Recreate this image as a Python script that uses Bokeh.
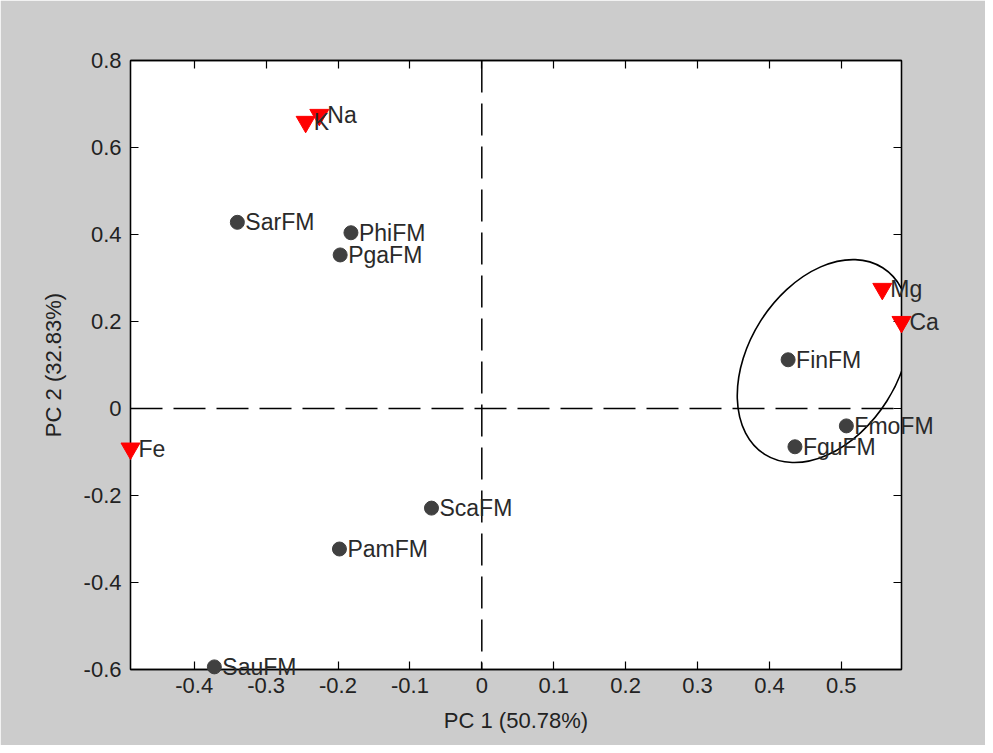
import math
from bokeh.plotting import figure
from bokeh.models import Range1d, LinearAxis, FixedTicker, Span, ColumnDataSource
from bokeh.core.properties import value
from bokeh.embed import file_html
from bokeh.resources import INLINE

# Samples (scores) - dark dots
sample_names = ["SarFM", "PhiFM", "PgaFM", "FinFM", "FmoFM", "FguFM", "ScaFM", "PamFM", "SauFM"]
sample_pc1 = [-0.340, -0.182, -0.197, 0.426, 0.507, 0.4355, -0.070, -0.198, -0.372]
sample_pc2 = [0.428, 0.404, 0.353, 0.112, -0.040, -0.088, -0.229, -0.323, -0.594]

# Elements (loadings) - red triangles
elem_names = ["K", "Na", "Mg", "Ca", "Fe"]
elem_pc1 = [-0.245, -0.226, 0.557, 0.5837, -0.4886]
elem_pc2 = [0.659, 0.675, 0.275, 0.199, -0.092]

# Group ellipse (center, width along x-scale, height along y-scale, angle in degrees)
ell_x = [0.4755]
ell_y = [0.109]
ell_w = [0.307]
ell_h = [0.344]
ell_angle_deg = [57.7]

x_ticks = [-0.4, -0.3, -0.2, -0.1, 0.0, 0.1, 0.2, 0.3, 0.4, 0.5]
x_tick_labels = ["-0.4", "-0.3", "-0.2", "-0.1", "0", "0.1", "0.2", "0.3", "0.4", "0.5"]
y_ticks = [-0.6, -0.4, -0.2, 0.0, 0.2, 0.4, 0.6, 0.8]
y_tick_labels = ["-0.6", "-0.4", "-0.2", "0", "0.2", "0.4", "0.6", "0.8"]

x_label = "PC 1 (50.78%)"
y_label = "PC 2 (32.83%)"

all_x = sample_pc1 + elem_pc1
x_min, x_max = min(all_x), max(all_x)
y_min, y_max = -0.6, 0.8

FONT = "Liberation Sans"
FS = "22px"
FS_LAB = "23px"

p = figure(
    frame_width=771, frame_height=609,
    min_border_left=130, min_border_right=84, min_border_top=60, min_border_bottom=76,
    x_range=Range1d(x_min, x_max), y_range=Range1d(y_min, y_max),
    output_backend="svg", toolbar_location=None,
    x_axis_location=None, y_axis_location=None,
)
p.border_fill_color = "#cccccc"
p.background_fill_color = "white"
p.outline_line_color = "black"
p.outline_line_width = 1.3
p.xgrid.visible = False
p.ygrid.visible = False

def make_axis(ticks, labels, show_labels, label_text=None):
    ax = LinearAxis(ticker=FixedTicker(ticks=ticks))
    if show_labels:
        ax.major_label_overrides = {t: l for t, l in zip(ticks, labels)}
    else:
        ax.major_label_overrides = {t: "" for t in ticks}
        ax.major_label_text_font_size = "0px"
    ax.major_tick_in = 8
    ax.major_tick_out = 0
    ax.minor_tick_line_color = None
    ax.axis_line_color = "black"
    ax.axis_line_width = 1.3
    ax.major_tick_line_color = "black"
    ax.major_tick_line_width = 1.2
    ax.major_label_text_font = FONT
    ax.major_label_text_color = "#222222"
    if show_labels:
        ax.major_label_text_font_size = FS
    if label_text:
        ax.axis_label = label_text
        ax.axis_label_text_font = FONT
        ax.axis_label_text_font_size = FS
        ax.axis_label_text_font_style = "normal"
        ax.axis_label_text_color = "#222222"
    return ax

bx = make_axis(x_ticks, x_tick_labels, True, x_label)
bx.major_label_standoff = 8
bx.axis_label_standoff = 12
p.add_layout(bx, "below")
ly = make_axis(y_ticks, y_tick_labels, True, y_label)
ly.major_label_standoff = 9
ly.axis_label_standoff = 15
p.add_layout(ly, "left")
p.add_layout(make_axis(x_ticks, x_tick_labels, False), "above")
p.add_layout(make_axis(y_ticks, y_tick_labels, False), "right")

# dashed zero lines
p.add_layout(Span(location=0, dimension="width", line_color="black", line_width=1.5, line_dash="32 11"))
p.add_layout(Span(location=0, dimension="height", line_color="black", line_width=1.5, line_dash="32 11"))

# ellipse
p.ellipse(x=ell_x, y=ell_y, width=ell_w, height=ell_h,
          angle=[math.radians(a) for a in ell_angle_deg],
          fill_color=None, line_color="black", line_width=1.6)

src_s = ColumnDataSource(dict(x=sample_pc1, y=sample_pc2, name=sample_names))
src_e = ColumnDataSource(dict(x=elem_pc1, y=elem_pc2, name=elem_names))

r1 = p.scatter("x", "y", source=src_s, marker="circle", size=14, fill_color="#404040", line_color="#404040")
r2 = p.text("x", "y", text="name", source=src_s, x_offset=8, text_baseline="middle",
            text_font=value(FONT), text_font_size=FS_LAB, text_color="#2a2a2a")
r3 = p.scatter("x", "y", source=src_e, marker="inverted_triangle", size=19, fill_color="#ff0000", line_color="#ff0000")
r4 = p.text("x", "y", text="name", source=src_e, x_offset=8, text_baseline="middle",
            text_font=value(FONT), text_font_size=FS_LAB, text_color="#2a2a2a")
for r in (r1, r2, r3, r4):
    r.level = "overlay"

open("out.html", "w").write(file_html(p, INLINE))
